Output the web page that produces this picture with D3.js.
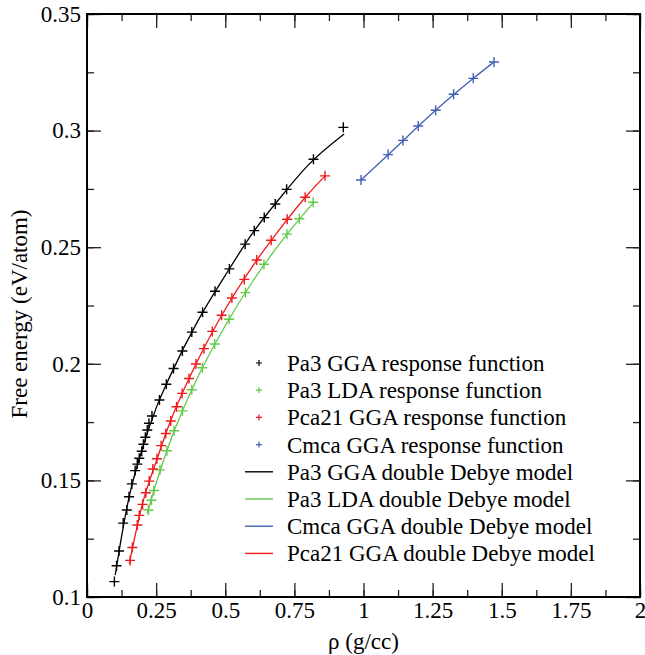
<!DOCTYPE html>
<html>
<head>
<meta charset="utf-8">
<script src="https://cdn.jsdelivr.net/npm/d3@7"></script>
<style>
body { margin: 0; background: #fff; }
</style>
</head>
<body>
<svg id="chart" width="645" height="655"></svg>
<script>
// response function points
var pa3GgaX = [0.099, 0.107, 0.116, 0.131, 0.144, 0.152, 0.162, 0.174, 0.182, 0.189, 0.198, 0.204, 0.211, 0.218, 0.224, 0.235, 0.262, 0.287, 0.313, 0.345, 0.379, 0.418, 0.463, 0.515, 0.572, 0.605, 0.641, 0.681, 0.722, 0.819, 0.927];
var pa3GgaY = [0.1066, 0.1134, 0.1197, 0.1317, 0.1373, 0.143, 0.1485, 0.1542, 0.157, 0.1595, 0.1625, 0.1655, 0.1685, 0.1716, 0.1745, 0.1776, 0.1845, 0.1912, 0.198, 0.2055, 0.2136, 0.2221, 0.2311, 0.2407, 0.2513, 0.2571, 0.2627, 0.2685, 0.2748, 0.2877, 0.3014];

var pa3LdaX = [0.222, 0.233, 0.242, 0.264, 0.289, 0.315, 0.345, 0.379, 0.417, 0.462, 0.514, 0.573, 0.640, 0.723, 0.768, 0.818];
var pa3LdaY = [0.1373, 0.1415, 0.1457, 0.1545, 0.1627, 0.1713, 0.1798, 0.1889, 0.1983, 0.2085, 0.2191, 0.2305, 0.2427, 0.2556, 0.2622, 0.2693];

var pca21X = [0.156, 0.164, 0.182, 0.189, 0.201, 0.213, 0.225, 0.238, 0.253, 0.268, 0.285, 0.303, 0.324, 0.344, 0.369, 0.394, 0.423, 0.453, 0.487, 0.524, 0.569, 0.614, 0.666, 0.724, 0.789, 0.861];
var pca21Y = [0.1157, 0.1212, 0.1309, 0.135, 0.1397, 0.1447, 0.1497, 0.1549, 0.1593, 0.1649, 0.1701, 0.1755, 0.1816, 0.1873, 0.1937, 0.1999, 0.2065, 0.2139, 0.2208, 0.2282, 0.2362, 0.2445, 0.253, 0.262, 0.2714, 0.2806];

var cmcaX = [0.991, 1.089, 1.143, 1.198, 1.261, 1.326, 1.397, 1.472];
var cmcaY = [0.2788, 0.2897, 0.2958, 0.302, 0.3087, 0.3156, 0.3224, 0.3294];

// double Debye model curves
var pa3GgaFitX = [0.102, 0.12, 0.15, 0.2, 0.25, 0.3, 0.4, 0.5, 0.6, 0.7, 0.8, 0.93];
var pa3GgaFitY = [0.1094, 0.1225, 0.1416, 0.1635, 0.181, 0.1946, 0.2182, 0.2379, 0.2562, 0.2714, 0.2852, 0.2985];

var pa3LdaFitX = [0.218, 0.25, 0.3, 0.4, 0.5, 0.6, 0.7, 0.818];
var pa3LdaFitY = [0.1359, 0.1488, 0.1664, 0.1941, 0.2163, 0.2355, 0.252, 0.269];

var cmcaFitX = [0.991, 1.1, 1.2, 1.3, 1.4, 1.472];
var cmcaFitY = [0.2788, 0.2908, 0.3021, 0.3128, 0.3227, 0.3294];

var pca21FitX = [0.153, 0.2, 0.25, 0.3, 0.4, 0.5, 0.6, 0.7, 0.8, 0.861];
var pca21FitY = [0.1144, 0.1397, 0.158, 0.1748, 0.2013, 0.2234, 0.242, 0.2582, 0.2728, 0.2806];

var xTicks = [0, 0.25, 0.5, 0.75, 1, 1.25, 1.5, 1.75, 2];
var xTickLabels = ["0", "0.25", "0.5", "0.75", "1", "1.25", "1.5", "1.75", "2"];
var yTicks = [0.1, 0.15, 0.2, 0.25, 0.3, 0.35];
var yTickLabels = ["0.1", "0.15", "0.2", "0.25", "0.3", "0.35"];

var pointNames = ["Pa3 GGA response function", "Pa3 LDA response function", "Pca21 GGA response function", "Cmca GGA response function"];
var lineNames = ["Pa3 GGA double Debye model", "Pa3 LDA double Debye model", "Cmca GGA double Debye model", "Pca21 GGA double Debye model"];

var cBlack = "#000000", cGreen = "#62c948", cRed = "#f01818", cBlue = "#4261b4";
var serif = "'Liberation Serif', 'Times New Roman', serif";

var svg = d3.select("#chart"),
    width = +svg.attr("width"),
    height = +svg.attr("height");
var margin = {top: 14, right: 5, bottom: 58, left: 87};
var w = width - margin.left - margin.right,
    h = height - margin.top - margin.bottom;

var x = d3.scaleLinear().domain([0, 2]).range([0, w]);
var y = d3.scaleLinear().domain([0.1, 0.35]).range([h, 0]);

var g = svg.append("g").attr("transform", "translate(" + margin.left + "," + margin.top + ")");

var xMinor = d3.range(0, 17).map(function(i) { return i * 0.125; });
var yMinor = d3.range(0, 11).map(function(i) { return 0.1 + i * 0.025; });

function styleAxis(sel) {
  sel.attr("font-family", serif).attr("font-size", 23);
  sel.select(".domain").remove();
  sel.selectAll("line").attr("stroke", "#222").attr("stroke-width", 1.3);
  sel.selectAll("text").attr("fill", "#000");
}

// minor ticks on all four sides
g.append("g").attr("transform", "translate(0," + h + ")")
  .call(d3.axisBottom(x).tickValues(xMinor).tickSize(-7).tickFormat("")).call(styleAxis);
g.append("g")
  .call(d3.axisTop(x).tickValues(xMinor).tickSize(-7).tickFormat("")).call(styleAxis);
g.append("g")
  .call(d3.axisLeft(y).tickValues(yMinor).tickSize(-7).tickFormat("")).call(styleAxis);
g.append("g").attr("transform", "translate(" + w + ",0)")
  .call(d3.axisRight(y).tickValues(yMinor).tickSize(-7).tickFormat("")).call(styleAxis);

// major ticks
g.append("g").attr("transform", "translate(0," + h + ")")
  .call(d3.axisBottom(x).tickValues(xTicks).tickSize(-14).tickPadding(5)
    .tickFormat(function(d, i) { return xTickLabels[i]; }))
  .call(styleAxis);
g.append("g")
  .call(d3.axisTop(x).tickValues(xTicks).tickSize(-14).tickFormat("")).call(styleAxis);
g.append("g")
  .call(d3.axisLeft(y).tickValues(yTicks).tickSize(-14).tickPadding(6)
    .tickFormat(function(d, i) { return yTickLabels[i]; }))
  .call(styleAxis);
g.append("g").attr("transform", "translate(" + w + ",0)")
  .call(d3.axisRight(y).tickValues(yTicks).tickSize(-14).tickFormat("")).call(styleAxis);

// frame
g.append("rect").attr("width", w).attr("height", h)
  .attr("fill", "none").attr("stroke", "#000").attr("stroke-width", 2);

// axis titles
svg.append("text")
  .attr("x", margin.left + w / 2).attr("y", 649)
  .attr("text-anchor", "middle")
  .attr("font-family", serif).attr("font-size", 23)
  .text("ρ (g/cc)");
svg.append("text")
  .attr("transform", "translate(27,314) rotate(-90)")
  .attr("text-anchor", "middle")
  .attr("font-family", serif).attr("font-size", 23)
  .text("Free energy (eV/atom)");

var line = d3.line()
  .x(function(d) { return x(d[0]); })
  .y(function(d) { return y(d[1]); })
  .curve(d3.curveMonotoneX);

function pairs(xs, ys) { return xs.map(function(v, i) { return [v, ys[i]]; }); }

function plus(s) { return "M" + (-s) + ",0H" + s + "M0," + (-s) + "V" + s; }

var series = [
  {px: pa3GgaX, py: pa3GgaY, fx: pa3GgaFitX, fy: pa3GgaFitY, color: cBlack},
  {px: pa3LdaX, py: pa3LdaY, fx: pa3LdaFitX, fy: pa3LdaFitY, color: cGreen},
  {px: pca21X, py: pca21Y, fx: pca21FitX, fy: pca21FitY, color: cRed},
  {px: cmcaX, py: cmcaY, fx: cmcaFitX, fy: cmcaFitY, color: cBlue}
];

series.forEach(function(s) {
  g.append("path")
    .datum(pairs(s.fx, s.fy))
    .attr("fill", "none")
    .attr("stroke", s.color)
    .attr("stroke-width", 1.3)
    .attr("d", line);
  g.append("g").selectAll("path")
    .data(pairs(s.px, s.py))
    .enter().append("path")
    .attr("transform", function(d) { return "translate(" + x(d[0]) + "," + y(d[1]) + ")"; })
    .attr("d", plus(5))
    .attr("stroke", s.color)
    .attr("stroke-width", 1.4)
    .attr("fill", "none");
});

// legend
var legend = svg.append("g").attr("transform", "translate(245,363)")
  .attr("font-family", serif).attr("font-size", 23);
var rowH = 27.2;
var pointColors = [cBlack, cGreen, cRed, cBlue];
var lineColors = [cBlack, cGreen, cBlue, cRed];

pointNames.forEach(function(name, i) {
  legend.append("path")
    .attr("transform", "translate(14," + (i * rowH) + ")")
    .attr("d", plus(3))
    .attr("stroke", pointColors[i]).attr("stroke-width", 1.2).attr("fill", "none");
  legend.append("text")
    .attr("x", 42).attr("y", i * rowH).attr("dy", "0.35em")
    .text(name);
});
lineNames.forEach(function(name, j) {
  var i = j + 4;
  legend.append("line")
    .attr("x1", 0).attr("x2", 28)
    .attr("y1", i * rowH).attr("y2", i * rowH)
    .attr("stroke", lineColors[j]).attr("stroke-width", 1.4);
  legend.append("text")
    .attr("x", 42).attr("y", i * rowH).attr("dy", "0.35em")
    .text(name);
});
</script>
</body>
</html>
